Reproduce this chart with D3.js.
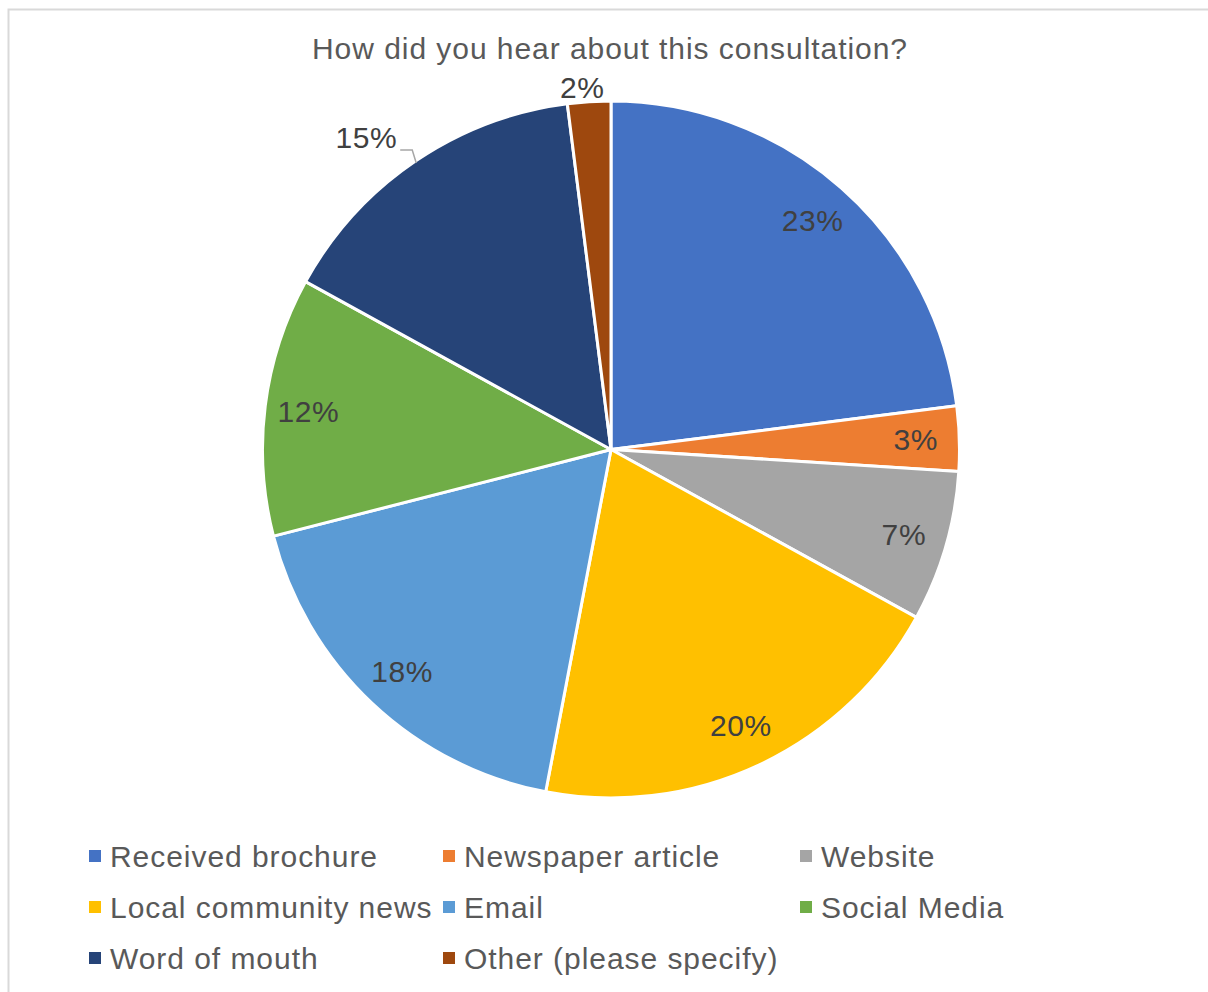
<!DOCTYPE html>
<html>
<head>
<meta charset="utf-8">
<script src="https://cdn.jsdelivr.net/npm/d3@7/dist/d3.min.js"></script>
<style>
  html, body { margin: 0; padding: 0; background: #ffffff; }
  svg { display: block; }
  text { font-family: "Liberation Sans", Arial, sans-serif; }
</style>
</head>
<body>
<svg id="chart" width="1208" height="992"></svg>
<script>
// Survey responses: "How did you hear about this consultation?"
const categories = [
  "Received brochure", "Newspaper article", "Website",
  "Local community news", "Email", "Social Media",
  "Word of mouth", "Other (please specify)"
];
const shares = [23, 3, 7, 20, 18, 12, 15, 2];
const colors = [
  "#4472c4", "#ed7d31", "#a5a5a5", "#ffc000",
  "#5b9bd5", "#70ad47", "#264478", "#9e480e"
];
const title = "How did you hear about this consultation?";

const svg = d3.select("#chart");
const W = 1208, H = 992;

// chart frame
svg.append("rect")
  .attr("x", 8.5).attr("y", 9.5)
  .attr("width", W + 10).attr("height", H + 10)
  .attr("fill", "#ffffff")
  .attr("stroke", "#d9d9d9").attr("stroke-width", 2);

// title
svg.append("text")
  .attr("x", 610).attr("y", 59)
  .attr("text-anchor", "middle")
  .attr("font-size", 30)
  .attr("letter-spacing", 0.95)
  .attr("fill", "#595959")
  .text(title);

const cx = 611, cy = 449.5, R = 348.5;
const data = categories.map((c, i) => ({ name: c, value: shares[i], color: colors[i] }));

const pie = d3.pie().value(d => d.value).sort(null);
const arcs = pie(data);
const arc = d3.arc().innerRadius(0).outerRadius(R);
const labelArc = d3.arc().innerRadius(305 * 2 - R).outerRadius(R); // centroid at r = 305
const edgeArc = d3.arc().innerRadius(R - 2).outerRadius(R - 2);
const outerArc = d3.arc().innerRadius(363).outerRadius(363);

const g = svg.append("g").attr("transform", `translate(${cx},${cy})`);

g.selectAll("path.slice")
  .data(arcs)
  .join("path")
  .attr("class", "slice")
  .attr("d", arc)
  .attr("fill", d => d.data.color)
  .attr("stroke", "#ffffff")
  .attr("stroke-width", 3)
  .attr("stroke-linejoin", "round");

const fmt = d => d.data.value + "%";

// labels inside slices
const inside = arcs.filter(d => d.data.value >= 3);
g.selectAll("text.inlabel")
  .data(inside.filter(d => d.data.name !== "Word of mouth"))
  .join("text")
  .attr("class", "inlabel")
  .attr("transform", d => `translate(${labelArc.centroid(d)})`)
  .attr("text-anchor", "middle")
  .attr("dominant-baseline", "central")
  .attr("font-size", 30)
  .attr("letter-spacing", 0.6)
  .attr("fill", "#404040")
  .text(fmt);

// "Other" label just outside the slice
const other = arcs.find(d => d.data.name.startsWith("Other"));
const op = outerArc.centroid(other);
g.append("text")
  .attr("x", op[0] - 6).attr("y", op[1])
  .attr("text-anchor", "middle")
  .attr("dominant-baseline", "central")
  .attr("font-size", 30)
  .attr("letter-spacing", 0.6)
  .attr("fill", "#404040")
  .text(fmt(other));

// "Word of mouth" label outside with a leader line
const wom = arcs.find(d => d.data.name === "Word of mouth");
const ep = edgeArc.centroid(wom);
const lx = ep[0] - 16, ly = ep[1] - 13;
g.append("path")
  .attr("d", `M${ep[0]},${ep[1]} L${ep[0] - 4},${ly} L${lx},${ly}`)
  .attr("fill", "none")
  .attr("stroke", "#a6a6a6")
  .attr("stroke-width", 1.5);
g.append("text")
  .attr("x", lx - 3).attr("y", ly - 12)
  .attr("text-anchor", "end")
  .attr("dominant-baseline", "central")
  .attr("font-size", 30)
  .attr("letter-spacing", 0.6)
  .attr("fill", "#404040")
  .text(fmt(wom));

// legend: three columns, three rows
const colX = [89, 443, 800];
const rowY = [856, 907, 958];
const leg = svg.append("g");
const items = leg.selectAll("g.item")
  .data(data)
  .join("g")
  .attr("class", "item")
  .attr("transform", (d, i) => `translate(${colX[i % 3]},${rowY[Math.floor(i / 3)]})`);
items.append("rect")
  .attr("x", 0).attr("y", -6)
  .attr("width", 12).attr("height", 12)
  .attr("fill", d => d.color);
items.append("text")
  .attr("x", 21).attr("y", 0)
  .attr("dominant-baseline", "central")
  .attr("font-size", 30)
  .attr("letter-spacing", 0.95)
  .attr("fill", "#595959")
  .text(d => d.name);
</script>
</body>
</html>
